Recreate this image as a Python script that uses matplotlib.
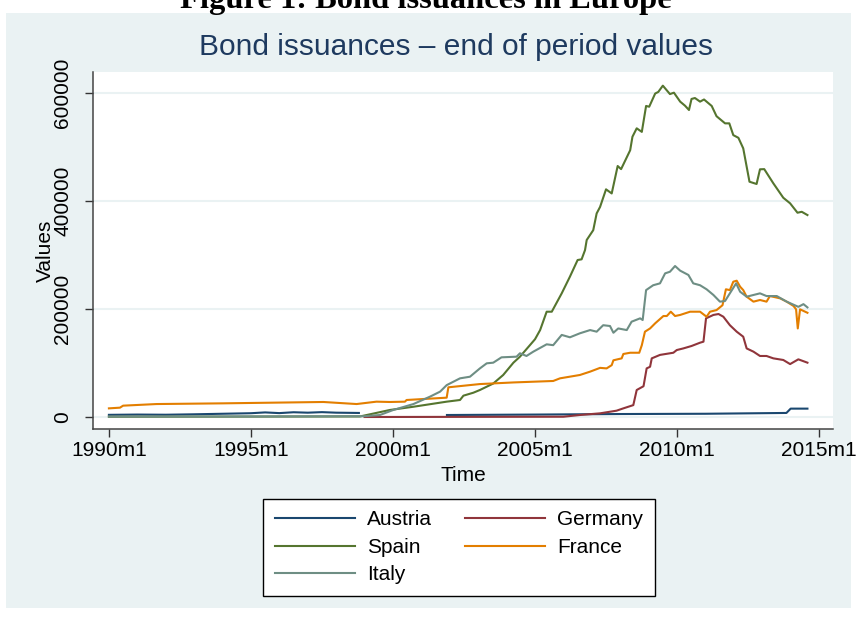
import numpy as np
import matplotlib
matplotlib.use('Agg')
import matplotlib.pyplot as plt
from matplotlib.patches import Rectangle

plt.rcParams['font.family'] = ['Liberation Sans', 'DejaVu Sans']

# series (decimal year, end of period value)
austria_t = [1990.0, 1991.0, 1992.0, 1993.0, 1994.0, 1995.0, 1995.5, 1996.0, 1996.5, 1997.0, 1997.5,
             1998.0, 1998.8, np.nan, 2001.9, 2005.0, 2008.0, 2011.0, 2013.85, 2014.0, 2014.59]
austria_v = [4000, 4500, 4200, 5000, 6000, 7000, 8500, 7200, 8800, 8000, 9000,
             8000, 7500, np.nan, 3700, 4500, 5500, 6000, 7500, 15500, 15500]

germany_t = [1999.0, 2006.0, 2006.58, 2007.29, 2007.87, 2008.11, 2008.46, 2008.58, 2008.82, 2008.93,
             2009.05, 2009.11, 2009.40, 2009.87, 2009.99, 2010.22, 2010.51, 2010.81, 2010.93, 2011.02,
             2011.28, 2011.46, 2011.63, 2011.86, 2012.10, 2012.33, 2012.45, 2012.69, 2012.92, 2013.15,
             2013.39, 2013.74, 2013.98, 2014.27, 2014.59]
germany_v = [0, 500, 3700, 6800, 11700, 16000, 22000, 50000, 57000, 90000,
             93000, 108600, 115000, 119000, 124000, 127000, 131500, 137600, 139500, 182700,
             189000, 190700, 185700, 170000, 158000, 148700, 127000, 121000, 113000, 113000,
             108600, 105600, 98000, 106800, 100600]

spain_t = [1990.0, 1998.84, 1999.54, 1999.89, 2000.72, 2001.89, 2002.36, 2002.48, 2002.83, 2003.06,
           2003.53, 2003.88, 2004.24, 2004.47, 2004.82, 2005.0, 2005.18, 2005.41, 2005.59, 2005.94,
           2006.23, 2006.50, 2006.64, 2006.76, 2006.82, 2007.05, 2007.17, 2007.29, 2007.5, 2007.70,
           2007.91, 2008.03, 2008.35, 2008.43, 2008.58, 2008.76, 2008.91, 2009.02, 2009.23, 2009.34,
           2009.50, 2009.75, 2009.89, 2010.11, 2010.28, 2010.42, 2010.51, 2010.63, 2010.81, 2010.95,
           2011.22, 2011.39, 2011.69, 2011.84, 2011.98, 2012.16, 2012.33, 2012.55, 2012.80, 2012.92,
           2013.07, 2013.39, 2013.74, 2013.98, 2014.24, 2014.39, 2014.59]
spain_v = [500, 1000, 9000, 13000, 19000, 28400, 31500, 39500, 45000, 50000,
           62000, 77800, 100600, 111700, 133000, 144000, 161000, 195000, 195000, 229000,
           260000, 290700, 292000, 309000, 327800, 346000, 377000, 389000, 421600, 414000,
           464800, 459000, 494000, 519000, 534600, 528000, 576000, 574600, 599000, 602000,
           613600, 598000, 600600, 584000, 576500, 568500, 589000, 590700, 584000, 588000,
           576000, 557000, 543800, 543800, 522000, 517000, 497500, 435700, 431500, 458700,
           459000, 432700, 406000, 395700, 378300, 380000, 374000]

france_t = [1990.0, 1990.39, 1990.5, 1991.68, 1994.02, 1997.55, 1998.72, 1999.42, 1999.89, 2000.42,
            2000.48, 2001.89, 2001.95, 2003.06, 2004.24, 2005.64, 2005.88, 2006.58, 2006.94, 2007.29,
            2007.52, 2007.70, 2007.76, 2008.05, 2008.11, 2008.35, 2008.67, 2008.76, 2008.87, 2009.05,
            2009.23, 2009.52, 2009.64, 2009.78, 2009.93, 2010.11, 2010.46, 2010.81, 2011.04, 2011.16,
            2011.39, 2011.60, 2011.72, 2011.86, 2011.98, 2012.10, 2012.22, 2012.33, 2012.45, 2012.69,
            2012.92, 2013.15, 2013.27, 2013.63, 2013.86, 2014.10, 2014.19, 2014.25, 2014.33, 2014.59]
france_v = [16000, 17300, 21000, 24000, 25300, 27800, 24000, 28400, 27800, 28400,
            31500, 35800, 55000, 61000, 64000, 66700, 71600, 77800, 84000, 91000,
            90000, 96000, 105000, 108600, 116700, 119000, 119000, 133000, 158000, 164000,
            173500, 187000, 187000, 195000, 187000, 189000, 195000, 195000, 185700, 195000,
            198000, 207000, 236500, 235000, 250600, 252400, 241300, 235000, 222800, 213600,
            216700, 213600, 224000, 219700, 213600, 205600, 199400, 164000, 199400, 193000]

italy_t = [1990.0, 1995.0, 1999.0, 1999.54, 2000.01, 2000.72, 2001.30, 2001.66, 2001.89, 2002.36,
           2002.71, 2003.06, 2003.30, 2003.53, 2003.82, 2004.35, 2004.47, 2004.70, 2004.94, 2005.41,
           2005.64, 2005.94, 2006.23, 2006.58, 2006.94, 2007.17, 2007.40, 2007.64, 2007.76, 2007.93,
           2008.23, 2008.40, 2008.70, 2008.79, 2008.91, 2009.16, 2009.40, 2009.58, 2009.75, 2009.93,
           2010.11, 2010.40, 2010.57, 2010.81, 2011.04, 2011.28, 2011.51, 2011.69, 2012.08, 2012.22,
           2012.45, 2012.92, 2013.15, 2013.51, 2013.86, 2014.27, 2014.45, 2014.59]
italy_v = [800, 1000, 1500, 3700, 13000, 24000, 37600, 47000, 59000, 71600,
           74600, 90000, 99400, 100600, 110500, 111700, 118000, 113000, 121000, 134600,
           133000, 152000, 147600, 155000, 161000, 158000, 170000, 168500, 156000, 164000,
           161000, 176500, 182700, 179600, 235000, 244000, 247500, 266000, 269000, 279600,
           271000, 263000, 247500, 244000, 236500, 226000, 213600, 214800, 247500, 232000,
           222800, 229000, 224000, 224000, 213600, 204000, 209000, 203000]

x_ticks = [1990, 1995, 2000, 2005, 2010, 2015]
x_labels = ['1990m1', '1995m1', '2000m1', '2005m1', '2010m1', '2015m1']
y_ticks = [0, 200000, 400000, 600000]

# Stata s2color palette
colors = {'Austria': '#1A476F', 'Germany': '#90353B', 'Spain': '#55752F',
          'France': '#E37E00', 'Italy': '#6E8E84'}
bg = '#EAF2F3'

W, H = 857, 621
fig = plt.figure(figsize=(W / 100, H / 100), dpi=100)
fig.patch.set_facecolor('white')
fig.patches.append(Rectangle((6 / W, 1 - 608 / H), 845 / W, 595 / H,
                             transform=fig.transFigure, facecolor=bg, edgecolor='none', zorder=-10))

ax = fig.add_axes([93 / W, 1 - 429 / H, 740 / W, 357 / H])
ax.set_facecolor('white')

series = [('Austria', austria_t, austria_v), ('Germany', germany_t, germany_v),
          ('Spain', spain_t, spain_v), ('France', france_t, france_v),
          ('Italy', italy_t, italy_v)]
handles = {}
for name, t, v in series:
    ln, = ax.plot(t, v, color=colors[name], lw=1.5, label=name)
    handles[name] = ln

ax.set_xlim(1989.44, 2015.49)
ax.set_ylim(-22222, 638889)
ax.set_xticks(x_ticks)
ax.set_xticklabels(x_labels)
ax.set_yticks(y_ticks)
ax.set_yticklabels([str(v) for v in y_ticks], rotation=90, va='center')
ax.tick_params(axis='both', labelsize=15, length=6, width=1, color='#333333')
ax.tick_params(axis='y', pad=9)
ax.tick_params(axis='x', pad=3)
ax.grid(axis='y', color=bg, lw=1.5)
ax.set_axisbelow(True)
for s in ['top', 'right']:
    ax.spines[s].set_visible(False)
for s in ['left', 'bottom']:
    ax.spines[s].set_color('#444444')
    ax.spines[s].set_linewidth(1.1)

ax.set_ylabel('Values', fontsize=15)
ax.yaxis.set_label_coords(-0.052, 0.5)
ax.set_xlabel('Time', fontsize=15)
ax.xaxis.set_label_coords(0.5, -0.103)

fig.text(456 / W, 1 - 55 / H, 'Bond issuances \u2013 end of period values', ha='center',
         va='baseline', fontsize=21.5, color='#1E3A5F')
fig.text(426 / W, 1 - 8 / H, 'Figure 1: Bond issuances in Europe', ha='center', va='baseline',
         fontsize=23.4, fontweight='bold', family='Liberation Serif')

order = ['Austria', 'Spain', 'Italy', 'Germany', 'France']
leg = fig.legend([handles[n] for n in order], order, ncol=2, loc='upper center',
                 bbox_to_anchor=(459 / W, 1 - 499 / H), borderaxespad=0, fontsize=15,
                 frameon=True, fancybox=False, edgecolor='black', facecolor='white',
                 framealpha=1, handlelength=3.85, columnspacing=1.6, handletextpad=0.58,
                 labelspacing=0.4, borderpad=0.55)
leg.get_frame().set_linewidth(1.0)

fig.savefig('out.png', dpi=100, facecolor=fig.get_facecolor())
